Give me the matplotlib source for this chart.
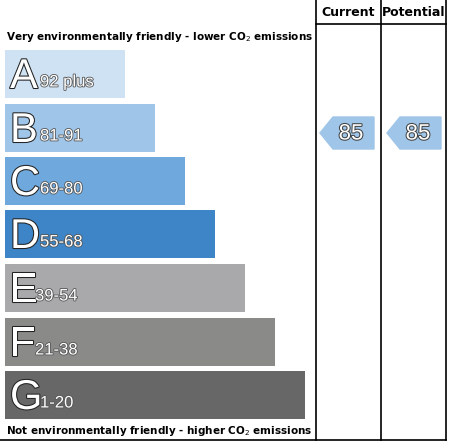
import matplotlib
matplotlib.use("Agg")
import matplotlib.pyplot as plt
import matplotlib.patheffects as pe
from matplotlib.patches import Polygon

bands = ["A", "B", "C", "D", "E", "F", "G"]
ranges = ["92 plus", "81-91", "69-80", "55-68", "39-54", "21-38", "1-20"]
colors = ["#cfe2f3", "#9fc5e8", "#6fa8dc", "#3d85c6", "#a9a8ab", "#8a8b89", "#676767"]
bar_ends = [125, 155, 185, 215, 245, 275, 305]
current = 85
potential = 85
arrow_color = "#9fc5e8"

fig = plt.figure(figsize=(4.5, 4.46), dpi=100)
ax = fig.add_axes([0, 0, 1, 1])
ax.set_xlim(0, 450)
ax.set_ylim(446, 0)
ax.axis("off")

tops = [50, 104, 157, 210, 264, 318, 371]
h = 48
ax.barh([t + h / 2 for t in tops], [e - 5 for e in bar_ends], left=5, height=h, color=colors)

stroke = [pe.withStroke(linewidth=1.5, foreground="#222222")]
for t, b, r in zip(tops, bands, ranges):
    ax.text(10, t + h / 2 + 3, b, fontsize=30, color="white", va="center", ha="left",
            path_effects=stroke, family="Liberation Sans")
    ax.text(40 if b not in ("E", "F") else 35, t + h / 2 + 8, r, fontsize=12, color="white",
            va="center", ha="left", path_effects=[pe.withStroke(linewidth=1.2, foreground="#555555")],
            family="Liberation Sans")

lw = 1.2
ax.plot([316, 316], [0, 440], color="black", lw=lw)
ax.plot([381, 381], [0, 440], color="black", lw=lw)
ax.plot([446, 446], [0, 440], color="black", lw=lw)
ax.plot([316, 446], [24, 24], color="black", lw=lw)
ax.plot([0, 446], [440, 440], color="black", lw=lw)
ax.text(348.5, 12, "Current", fontsize=9, fontweight="bold", ha="center", va="center")
ax.text(413.5, 12, "Potential", fontsize=9, fontweight="bold", ha="center", va="center")
ax.text(6, 37, "Very environmentally friendly - lower CO$_2$ emissions", fontsize=7.5,
        fontweight="bold", ha="left", va="center")
ax.text(6, 431, "Not environmentally friendly - higher CO$_2$ emissions", fontsize=7.5,
        fontweight="bold", ha="left", va="center")

def arrow(x0, val):
    yt, yb = 117, 149
    ym = (yt + yb) / 2
    ax.add_patch(Polygon([(x0, ym), (x0 + 13, yt), (x0 + 54, yt), (x0 + 54, yb), (x0 + 13, yb)],
                         closed=True, color=arrow_color))
    ax.text(x0 + 31, ym + 1, str(val), fontsize=16, color="white", ha="center", va="center",
            path_effects=[pe.withStroke(linewidth=1.5, foreground="#444444")], family="Liberation Sans")

arrow(320, current)
arrow(387, potential)

fig.savefig("out.png", dpi=100)
